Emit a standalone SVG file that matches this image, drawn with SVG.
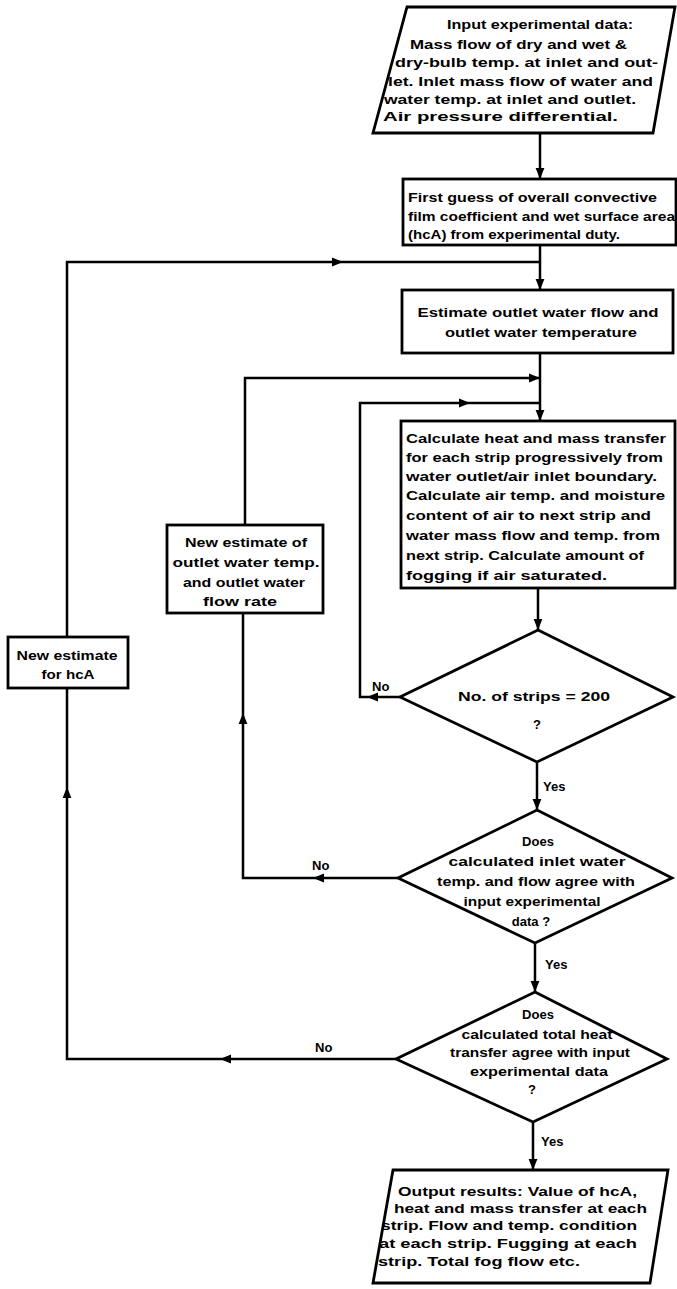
<svg xmlns="http://www.w3.org/2000/svg" width="677" height="1289" viewBox="0 0 677 1289">
<style>
.s{fill:none;stroke:#000;stroke-width:2.5}
.b{fill:#fff;stroke:#000;stroke-width:2.8}
text{font-family:"Liberation Sans",Arial,sans-serif;font-weight:bold;font-size:13px;fill:#000}
.m{text-anchor:middle}
</style>
<defs>
<marker id="a" viewBox="0 0 10 10" refX="10" refY="5" markerWidth="12" markerHeight="11" markerUnits="userSpaceOnUse" orient="auto">
<path d="M0,1 L10,5 L0,9 z" fill="#000"/>
</marker>
</defs>
<rect width="677" height="1289" fill="#fff"/>

<g id="connectors" class="s">
<path d="M540,133 V179" marker-end="url(#a)"/>
<path d="M540,245 V290" marker-end="url(#a)"/>
<path d="M67,637 V262 H343" marker-end="url(#a)"/>
<path d="M343,262 H540"/>
<path d="M540,353 V421" marker-end="url(#a)"/>
<path d="M245,525 V378 H540" marker-end="url(#a)"/>
<path d="M400,697 H367" marker-end="url(#a)"/>
<path d="M367,697 H360 V403 H470" marker-end="url(#a)"/>
<path d="M470,403 H540"/>
<path d="M538,588 V630" marker-end="url(#a)"/>
<path d="M537,762 V810" marker-end="url(#a)"/>
<path d="M398,878 H313" marker-end="url(#a)"/>
<path d="M313,878 H243 V713" marker-end="url(#a)"/>
<path d="M243,713 V613"/>
<path d="M535,943 V992" marker-end="url(#a)"/>
<path d="M396,1059 H220" marker-end="url(#a)"/>
<path d="M220,1059 H67 V787" marker-end="url(#a)"/>
<path d="M67,787 V688"/>
<path d="M533,1122 V1170" marker-end="url(#a)"/>
</g>

<g id="labels">
<text x="372" y="691">No</text>
<text x="543" y="791">Yes</text>
<text x="312" y="870">No</text>
<text x="545" y="969">Yes</text>
<text x="315" y="1052">No</text>
<text x="541" y="1146">Yes</text>
</g>

<g id="input">
<polygon class="b" points="407,7 675,7 653,133 373,133"/>
<text x="447" y="29" textLength="186" lengthAdjust="spacingAndGlyphs">Input experimental data:</text>
<text x="410" y="49" textLength="217" lengthAdjust="spacingAndGlyphs">Mass flow of dry and wet &amp;</text>
<text x="395" y="67" textLength="263" lengthAdjust="spacingAndGlyphs">dry-bulb temp. at inlet and out-</text>
<text x="388" y="86" textLength="265" lengthAdjust="spacingAndGlyphs">let. Inlet mass flow of water and</text>
<text x="384" y="104" textLength="252" lengthAdjust="spacingAndGlyphs">water temp. at inlet and outlet.</text>
<text x="383" y="121" textLength="235" lengthAdjust="spacingAndGlyphs">Air pressure differential.</text>
</g>

<g id="first-guess">
<rect class="b" x="403" y="179" width="273" height="66"/>
<text x="408" y="202" textLength="249" lengthAdjust="spacingAndGlyphs">First guess of overall convective</text>
<text x="408" y="221" textLength="267" lengthAdjust="spacingAndGlyphs">film coefficient and wet surface area</text>
<text x="408" y="239" textLength="212" lengthAdjust="spacingAndGlyphs">(hcA) from experimental duty.</text>
</g>

<g id="estimate">
<rect class="b" x="402" y="290" width="271" height="63"/>
<text class="m" x="538" y="317" textLength="241" lengthAdjust="spacingAndGlyphs">Estimate outlet water flow and</text>
<text class="m" x="541" y="337" textLength="192" lengthAdjust="spacingAndGlyphs">outlet water temperature</text>
</g>

<g id="calculate">
<rect class="b" x="401" y="421" width="274" height="167"/>
<text x="406" y="443" textLength="260" lengthAdjust="spacingAndGlyphs">Calculate heat and mass transfer</text>
<text x="406" y="462" textLength="257" lengthAdjust="spacingAndGlyphs">for each strip progressively from</text>
<text x="406" y="481" textLength="251" lengthAdjust="spacingAndGlyphs">water outlet/air inlet boundary.</text>
<text x="406" y="500" textLength="259" lengthAdjust="spacingAndGlyphs">Calculate air temp. and moisture</text>
<text x="406" y="520" textLength="245" lengthAdjust="spacingAndGlyphs">content of air to next strip and</text>
<text x="406" y="540" textLength="254" lengthAdjust="spacingAndGlyphs">water mass flow and temp. from</text>
<text x="406" y="560" textLength="238" lengthAdjust="spacingAndGlyphs">next strip. Calculate amount of</text>
<text x="406" y="580" textLength="201" lengthAdjust="spacingAndGlyphs">fogging if air saturated.</text>
</g>

<g id="new-estimate-water">
<rect class="b" x="167" y="525" width="156" height="88"/>
<text class="m" x="246" y="547" textLength="122" lengthAdjust="spacingAndGlyphs">New estimate of</text>
<text class="m" x="246" y="567" textLength="147" lengthAdjust="spacingAndGlyphs">outlet water temp.</text>
<text class="m" x="244" y="587" textLength="122" lengthAdjust="spacingAndGlyphs">and outlet water</text>
<text class="m" x="240" y="606" textLength="74" lengthAdjust="spacingAndGlyphs">flow rate</text>
</g>

<g id="new-estimate-hca">
<rect class="b" x="8" y="637" width="120" height="51"/>
<text class="m" x="67" y="660" textLength="101" lengthAdjust="spacingAndGlyphs">New estimate</text>
<text class="m" x="68" y="679" textLength="53" lengthAdjust="spacingAndGlyphs">for hcA</text>
</g>

<g id="decision-strips">
<polygon class="b" points="538,630 673,697 537,762 400,697"/>
<text class="m" x="534" y="701" textLength="152" lengthAdjust="spacingAndGlyphs">No. of strips = 200</text>
<text class="m" x="537" y="729">?</text>
</g>

<g id="decision-inlet">
<polygon class="b" points="537,810 672,878 535,943 398,878"/>
<text class="m" x="538" y="846">Does</text>
<text class="m" x="537" y="866" textLength="177" lengthAdjust="spacingAndGlyphs">calculated inlet water</text>
<text class="m" x="536" y="886" textLength="198" lengthAdjust="spacingAndGlyphs">temp. and flow agree with</text>
<text class="m" x="532" y="906" textLength="137" lengthAdjust="spacingAndGlyphs">input experimental</text>
<text class="m" x="531" y="926">data ?</text>
</g>

<g id="decision-heat">
<polygon class="b" points="535,992 667,1059 533,1122 396,1059"/>
<text class="m" x="538" y="1019">Does</text>
<text class="m" x="537" y="1039" textLength="151" lengthAdjust="spacingAndGlyphs">calculated total heat</text>
<text class="m" x="540" y="1057" textLength="180" lengthAdjust="spacingAndGlyphs">transfer agree with input</text>
<text class="m" x="539" y="1076" textLength="138" lengthAdjust="spacingAndGlyphs">experimental data</text>
<text class="m" x="532" y="1094">?</text>
</g>

<g id="output">
<polygon class="b" points="393,1170 668,1170 650,1283 373,1283"/>
<text x="398" y="1196" textLength="239" lengthAdjust="spacingAndGlyphs">Output results: Value of hcA,</text>
<text x="394" y="1213" textLength="253" lengthAdjust="spacingAndGlyphs">heat and mass transfer at each</text>
<text x="381" y="1230" textLength="256" lengthAdjust="spacingAndGlyphs">strip. Flow and temp. condition</text>
<text x="379" y="1248" textLength="258" lengthAdjust="spacingAndGlyphs">at each strip. Fugging at each</text>
<text x="378" y="1266" textLength="202" lengthAdjust="spacingAndGlyphs">strip. Total fog flow etc.</text>
</g>
</svg>
